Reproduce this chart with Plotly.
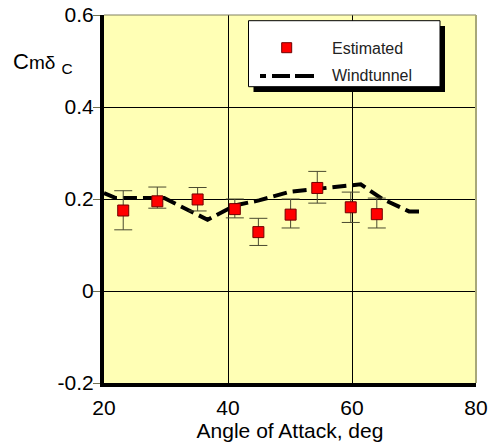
import plotly.graph_objects as go

# ---- data ----
alpha_est = [23.1, 28.6, 35.1, 41.1, 44.9, 50.1, 54.4, 59.8, 64.0]
cm_est = [0.175, 0.195, 0.199, 0.178, 0.128, 0.166, 0.224, 0.182, 0.167]
cm_est_upper = [0.218, 0.226, 0.225, 0.200, 0.158, 0.200, 0.260, 0.215, 0.202]
cm_est_lower = [0.133, 0.180, 0.174, 0.159, 0.099, 0.137, 0.191, 0.149, 0.137]

alpha_wt = [20.0, 21.9, 29.7, 36.7, 41.1, 45.0, 50.1, 54.4, 61.4, 64.9, 69.2, 71.6]
cm_wt = [0.213, 0.202, 0.202, 0.155, 0.186, 0.197, 0.216, 0.222, 0.232, 0.200, 0.173, 0.173]

x_ticks = [20, 40, 60, 80]
y_ticks = [-0.2, 0, 0.2, 0.4, 0.6]
y_tick_text = ["-0.2", "0", "0.2", "0.4", "0.6"]

err_plus = [u - v for u, v in zip(cm_est_upper, cm_est)]
err_minus = [v - l for v, l in zip(cm_est, cm_est_lower)]

FONT = "Liberation Sans, Arial, sans-serif"
BG = "#FFFFB5"

fig = go.Figure()

fig.add_trace(go.Scatter(
    x=alpha_wt, y=cm_wt, mode="lines", name="Windtunnel",
    line=dict(color="black", width=4, dash="14px,6px"),
    showlegend=False,
))

fig.add_trace(go.Scatter(
    x=alpha_est, y=cm_est, mode="markers", name="Estimated",
    marker=dict(symbol="square", size=11, color="#FF0000",
                line=dict(color="#700000", width=1)),
    error_y=dict(type="data", array=err_plus, arrayminus=err_minus,
                 color="#4a4a30", thickness=1, width=9),
    showlegend=False,
))

shapes = []
# top and right borders
shapes.append(dict(type="line", xref="paper", yref="paper", x0=0, x1=1, y0=1, y1=1,
                   line=dict(color="#808060", width=1), layer="above"))
shapes.append(dict(type="line", xref="paper", yref="paper", x0=1, x1=1, y0=0, y1=1,
                   line=dict(color="#A8A878", width=2), layer="above"))

# manual legend box with shadow
PW, PH, L, B = 372.0, 368.0, 104.0, 383.0
def px(x):
    return (x - L) / PW
def py(y):
    return (B - y) / PH

shapes.append(dict(type="rect", xref="paper", yref="paper",
                   x0=px(253.5), x1=px(445), y0=py(92), y1=py(26),
                   fillcolor="black", line=dict(width=0), layer="above"))
shapes.append(dict(type="rect", xref="paper", yref="paper",
                   x0=px(248.5), x1=px(440), y0=py(86.7), y1=py(20.7),
                   fillcolor="white", line=dict(color="black", width=1), layer="above"))
shapes.append(dict(type="rect", xref="paper", yref="paper",
                   x0=px(281.7), x1=px(291.7), y0=py(52.7), y1=py(42.7),
                   fillcolor="#FF0000", line=dict(color="#700000", width=1), layer="above"))
for a, b in [(260, 266), (272, 290), (295, 314)]:
    shapes.append(dict(type="line", xref="paper", yref="paper",
                       x0=px(a), x1=px(b), y0=py(76), y1=py(76),
                       line=dict(color="black", width=4), layer="above"))

annotations = [
    dict(text="Estimated", xref="paper", yref="paper", x=px(330), y=py(48.5),
         xanchor="left", yanchor="middle", showarrow=False,
         font=dict(family=FONT, size=16, color="#222")),
    dict(text="Windtunnel", xref="paper", yref="paper", x=px(330), y=py(75.5),
         xanchor="left", yanchor="middle", showarrow=False,
         font=dict(family=FONT, size=16, color="#222")),
    dict(text="C<span style='font-size:19px'>mδ</span> <sub>C</sub>",
         xref="paper", yref="paper", x=px(11), y=py(63),
         xanchor="left", yanchor="middle", showarrow=False,
         font=dict(family=FONT, size=22, color="black")),
]

fig.update_layout(
    width=488, height=446,
    margin=dict(l=104, r=12, t=15, b=63, autoexpand=False),
    paper_bgcolor="white", plot_bgcolor=BG,
    font=dict(family=FONT, color="black"),
    shapes=shapes, annotations=annotations,
    showlegend=False,
)

fig.update_xaxes(
    range=[20, 80], tickmode="array", tickvals=x_ticks,
    showline=True, linewidth=4, linecolor="black",
    showgrid=True, gridcolor="black", gridwidth=1,
    zeroline=False, ticks="", automargin=False,
    tickfont=dict(family=FONT, size=21, color="black"),
    ticklabelstandoff=3, ticklabeloverflow="allow",
    title=dict(text="Angle of Attack, deg", standoff=6,
               font=dict(family=FONT, size=21, color="black")),
)
fig.update_yaxes(
    range=[-0.2, 0.6], tickmode="array", tickvals=y_ticks, ticktext=y_tick_text,
    showline=True, linewidth=4, linecolor="black",
    showgrid=True, gridcolor="black", gridwidth=1,
    zeroline=False, ticks="outside", ticklen=7, tickcolor="#707050", tickwidth=1,
    automargin=False, ticklabelstandoff=-5,
    tickfont=dict(family=FONT, size=21, color="black"),
)

fig.write_html("out.html", config={"displayModeBar": False},
               post_script="document.body.style.margin='0px';document.body.style.overflow='hidden';")
